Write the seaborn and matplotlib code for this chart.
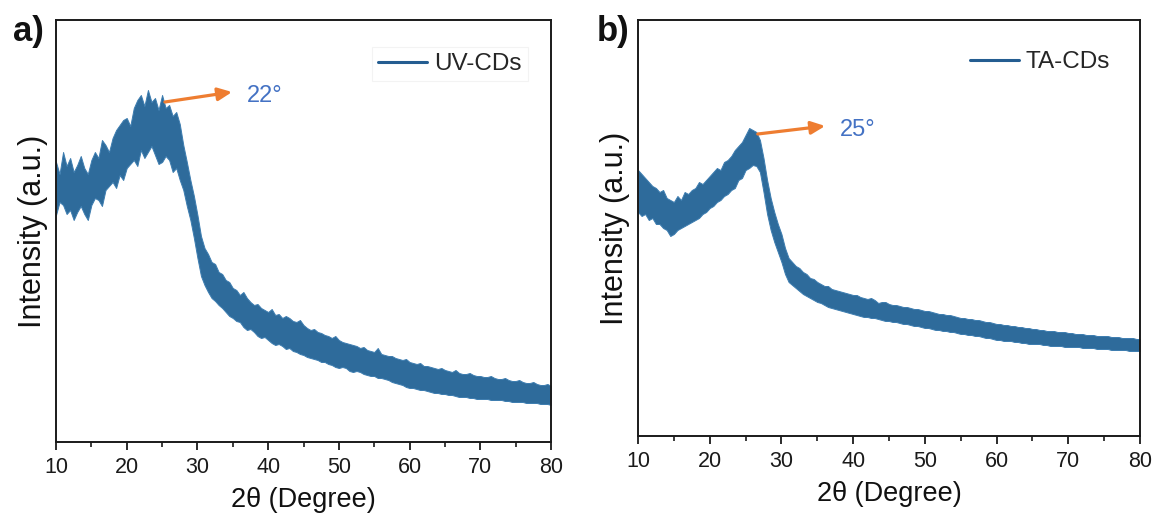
import numpy as np
import pandas as pd
import matplotlib
matplotlib.use("Agg")
import matplotlib.pyplot as plt
import seaborn as sns

# ---- data: min / max envelope of the noisy XRD traces ----
# 2-theta grid: 10.0, 10.5, ... 80.0 (141 points)
two_theta = [round(10 + 0.5 * i, 1) for i in range(141)]

uv_upper = [280, 268, 290, 276, 284, 270, 277, 286, 274, 268, 282, 290, 284, 302, 297, 290,
            304, 312, 317, 322, 324, 316, 334, 342, 347, 336, 352, 340, 344, 332, 347, 334,
            337, 326, 330, 318, 297, 280, 262, 246, 227, 206, 194, 188, 180, 178, 170, 168,
            162, 160, 154, 152, 147, 150, 144, 140, 137, 138, 134, 132, 130, 133, 127, 128,
            124, 126, 124, 121, 120, 122, 117, 114, 112, 113, 110, 109, 107, 106, 104, 106,
            102, 100, 99, 98, 97, 96, 94, 95, 92, 91, 90, 94, 88, 87, 86, 86, 84, 83, 82, 83,
            80, 79, 78, 79, 76, 76, 75, 74, 73, 74, 72, 71, 70, 72, 69, 68, 68, 69, 67, 66,
            66, 65, 65, 66, 64, 63, 63, 64, 62, 61, 61, 62, 60, 59, 59, 60, 58, 57, 57, 58, 56]
uv_lower = [227, 240, 237, 228, 232, 222, 230, 236, 228, 222, 237, 244, 242, 236, 252, 256,
            260, 254, 267, 262, 274, 278, 282, 276, 292, 284, 290, 296, 287, 278, 280, 286,
            282, 270, 274, 262, 252, 236, 222, 204, 184, 166, 157, 150, 144, 141, 137, 134,
            130, 126, 124, 121, 120, 115, 112, 113, 110, 106, 104, 105, 102, 99, 97, 98,
            96, 93, 94, 91, 90, 88, 87, 85, 84, 83, 82, 80, 80, 78, 77, 75, 74, 75, 74, 71,
            70, 71, 70, 68, 67, 66, 66, 64, 64, 63, 62, 60, 59, 58, 57, 55, 54, 54, 53, 52,
            52, 51, 50, 49, 49, 48, 48, 47, 47, 46, 45, 45, 45, 44, 44, 43, 43, 43, 43, 42,
            42, 42, 42, 41, 41, 40, 40, 40, 40, 39, 39, 39, 39, 38, 38, 38, 37]

ta_upper = [266, 262, 258, 254, 250, 248, 244, 246, 238, 236, 234, 240, 236, 244, 242, 246,
            248, 254, 252, 256, 260, 264, 268, 266, 274, 276, 280, 286, 290, 294, 301, 308,
            306, 304, 296, 278, 256, 238, 224, 212, 202, 188, 178, 174, 170, 168, 164, 162,
            158, 157, 154, 152, 150, 150, 147, 146, 145, 144, 143, 142, 141, 141, 139, 138,
            137, 138, 136, 133, 134, 134, 132, 131, 131, 130, 129, 129, 128, 127, 127, 126,
            125, 125, 124, 123, 122, 122, 121, 121, 120, 119, 118, 118, 117, 117, 116, 116,
            115, 114, 114, 113, 112, 112, 111, 111, 110, 110, 109, 109, 108, 108, 107, 107,
            106, 106, 105, 105, 105, 104, 104, 104, 103, 103, 102, 102, 102, 101, 101, 101,
            100, 100, 100, 100, 99, 99, 99, 98, 98, 98, 98, 97, 97]
ta_lower = [224, 220, 222, 216, 218, 212, 212, 208, 206, 200, 202, 206, 208, 210, 212, 214,
            216, 218, 222, 224, 228, 230, 234, 236, 240, 242, 246, 248, 256, 258, 266, 268,
            271, 270, 264, 244, 222, 206, 194, 184, 174, 162, 154, 151, 148, 145, 142, 140,
            138, 136, 134, 133, 131, 129, 128, 127, 126, 125, 124, 123, 122, 121, 120, 119,
            119, 118, 118, 117, 116, 115, 115, 114, 114, 113, 112, 112, 111, 110, 110, 109,
            108, 108, 107, 106, 106, 105, 105, 104, 104, 103, 102, 102, 101, 101, 100, 100,
            99, 98, 98, 97, 96, 96, 95, 95, 95, 94, 94, 93, 93, 92, 92, 92, 92, 91, 91, 90,
            90, 90, 90, 89, 89, 89, 89, 89, 88, 88, 88, 88, 87, 87, 87, 87, 86, 86, 86, 86,
            86, 85, 85, 85, 85]

x_ticks = [10, 20, 30, 40, 50, 60, 70, 80]
labels = ["UV-CDs", "TA-CDs"]
panel_tags = ["a)", "b)"]
peak_text = ["22°", "25°"]

LINE = "#2e6b9b"
EDGE = "#3d7db0"
LEG_LINE = "#245d91"
ORANGE = "#ee7d31"
TXT_BLUE = "#4472c4"

sns.set_theme(style="white")
plt.rcParams["font.family"] = ["Liberation Sans", "DejaVu Sans"]

W, H = 1157, 524
fig = plt.figure(figsize=(W / 100, H / 100), dpi=100)
ax_a = fig.add_axes([56 / W, (H - 442) / H, (551 - 56) / W, (442 - 20) / H])
ax_b = fig.add_axes([638 / W, (H - 436) / H, (1140 - 638) / W, (436 - 20) / H])


def long_df(upper, lower):
    return pd.DataFrame({"x": two_theta + two_theta, "y": upper + lower})


panels = [
    dict(ax=ax_a, up=uv_upper, lo=uv_lower, ytop=422,
         a0=(25.4, 340), a1=(34.9, 350), tpos=(37.0, 346),
         leg=((372 - 56) / 495, (442 - 64) / 422), frame=True,
         tag=(13, 32)),
    dict(ax=ax_b, up=ta_upper, lo=ta_lower, ytop=416,
         a0=(26.7, 302), a1=(36.1, 310), tpos=(38.2, 306),
         leg=((964 - 638) / 502, (436 - 62) / 416), frame=False,
         tag=(597, 32)),
]

for i, p in enumerate(panels):
    ax = p["ax"]
    df = long_df(p["up"], p["lo"])
    sns.lineplot(data=df, x="x", y="y", ax=ax, color=LINE, lw=0.8,
                 estimator="mean", errorbar=("pi", 100),
                 err_kws={"alpha": 1.0, "linewidth": 0.7, "edgecolor": EDGE,
                          "facecolor": LINE},
                 label=labels[i])
    ax.set_xlim(10, 80)
    ax.set_ylim(0, p["ytop"])
    ax.set_xticks(x_ticks)
    ax.set_xticks(list(range(15, 80, 10)), minor=True)
    ax.set_yticks([])
    ax.tick_params(axis="x", which="major", direction="out", length=6, width=1.3,
                   labelsize=15.5, colors="#1a1a1a", pad=5, bottom=True)
    ax.tick_params(axis="x", which="minor", direction="out", length=3.5, width=1.2,
                   bottom=True, colors="#1a1a1a")
    for s in ax.spines.values():
        s.set_color("#1a1a1a")
        s.set_linewidth(1.4)
    ax.set_xlabel("2θ (Degree)", fontsize=19.5, color="#111111", labelpad=6)
    ax.set_ylabel("Intensity (a.u.)", fontsize=22, color="#111111", labelpad=6)
    ax.annotate("", xy=p["a1"], xytext=p["a0"],
                arrowprops=dict(arrowstyle="-|>,head_length=0.7,head_width=0.32",
                                color=ORANGE, lw=2.3, shrinkA=0, shrinkB=0))
    ax.text(p["tpos"][0], p["tpos"][1], peak_text[i], color=TXT_BLUE, fontsize=17,
            va="center", ha="left")
    leg = ax.legend(loc="center left", bbox_to_anchor=p["leg"], borderaxespad=0,
                    fontsize=17.5, frameon=p["frame"], handlelength=2.0,
                    handletextpad=0.3, borderpad=0.25, fancybox=False)
    for h in leg.get_lines():
        h.set_color(LEG_LINE)
        h.set_linewidth(2.2)
    if p["frame"]:
        leg.get_frame().set_edgecolor("#f1f1f1")
        leg.get_frame().set_linewidth(0.8)
    fig.text(p["tag"][0] / W, 1 - p["tag"][1] / H, panel_tags[i], fontsize=25,
             fontweight="bold", color="#111111", ha="left", va="center")

fig.savefig("out.png", dpi=100)
